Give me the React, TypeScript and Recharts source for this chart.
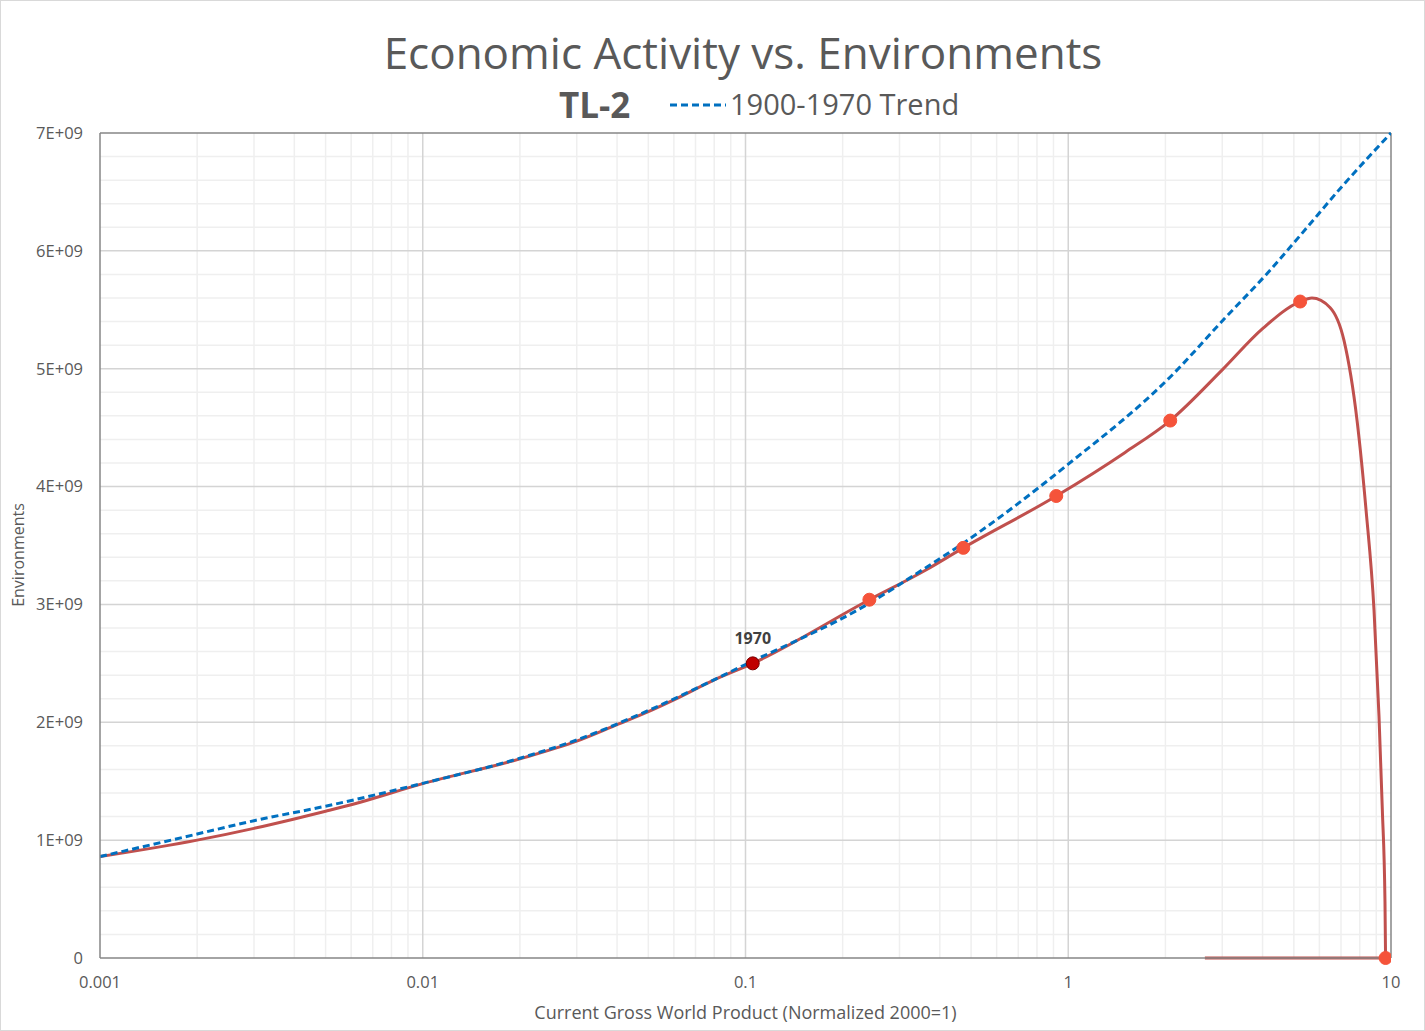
import React from "react";
import {
  ComposedChart,
  Line,
  Scatter,
  XAxis,
  YAxis,
  ReferenceLine,
  LabelList,
} from "recharts";

// GWP (normalized, 2000 = 1) and environments (billions)
const curveGwp = [
  0.001, 0.002, 0.003, 0.004, 0.005, 0.006, 0.01, 0.02, 0.03, 0.04, 0.05, 0.06, 0.08,
  0.1053, 0.242, 0.361, 0.473, 0.918, 1.5, 2.07, 3.0, 4.0, 5.23, 5.69, 6.47, 7.15, 7.85,
  8.37, 8.86, 9.18, 9.4, 9.58, 9.62,
];
const curveEnv = [
  0.86, 1.0, 1.1, 1.18, 1.245, 1.3, 1.48, 1.69, 1.84, 1.98, 2.09, 2.19, 2.36, 2.5, 3.04,
  3.29, 3.48, 3.92, 4.29, 4.56, 4.99, 5.34, 5.57, 5.6, 5.52, 5.24, 4.56, 3.8, 2.95, 2.05,
  1.26, 0.475, 0,
];

// 1900-1970 trend
const trendGwp = [
  0.001, 0.002, 0.003, 0.005, 0.01, 0.02, 0.03, 0.05, 0.1, 0.242, 0.361, 0.473, 1.0, 2.07,
  3.06, 4.14, 5.23, 7.12, 10,
];
const trendEnv = [
  0.86, 1.052, 1.165, 1.288, 1.482, 1.695, 1.85, 2.1, 2.49, 3.01, 3.31, 3.52, 4.19, 4.93,
  5.43, 5.81, 6.13, 6.56, 7.0,
];

// collapse baseline
const baseGwp = [2.65, 9.62];
const baseEnv = [0, 0];

// highlighted points
const markerGwp = [0.242, 0.473, 0.918, 2.07, 5.23, 9.62];
const markerEnv = [3.04, 3.48, 3.92, 4.56, 5.57, 0];
const point1970 = { x: 0.1053, y: 2.5, label: "1970" };

const xTicks = [0.001, 0.01, 0.1, 1, 10];
const yTicks = [0, 1, 2, 3, 4, 5, 6, 7];
const xMinor = [0.001, 0.01, 0.1, 1].flatMap((d) => [2, 3, 4, 5, 6, 7, 8, 9].map((m) => d * m));
const yMinor = [
  0.2, 0.4, 0.6, 0.8, 1.2, 1.4, 1.6, 1.8, 2.2, 2.4, 2.6, 2.8, 3.2, 3.4, 3.6, 3.8, 4.2, 4.4,
  4.6, 4.8, 5.2, 5.4, 5.6, 5.8, 6.2, 6.4, 6.6, 6.8,
];

const zip = (xs: number[], ys: number[]) => xs.map((x, i) => ({ x, y: ys[i] }));
const curveData = zip(curveGwp, curveEnv);
const trendData = zip(trendGwp, trendEnv);
const baseData = zip(baseGwp, baseEnv);
const markerData = zip(markerGwp, markerEnv);

const FONT = "'Open Sans', sans-serif";
const TEXT = "#595959";

const Dot = (fill: string, stroke: string) => (props: any) => (
  <circle cx={props.cx} cy={props.cy} r={6.5} fill={fill} stroke={stroke} strokeWidth={1} />
);

export default function App() {
  return (
    <div
      style={{
        position: "absolute",
        left: 0,
        top: 0,
        width: 1425,
        height: 1031,
        background: "#fff",
        fontFamily: FONT,
      }}
    >
      <ComposedChart width={1425} height={1031} margin={{ top: 133, right: 34, left: 0, bottom: 0 }}>
        <XAxis
          dataKey="x"
          type="number"
          scale="log"
          domain={[0.001, 10]}
          ticks={xTicks}
          allowDataOverflow
          height={73}
          tickSize={0}
          tickMargin={18}
          tickFormatter={(v) => String(v)}
          tick={{ fill: TEXT, fontSize: 16.5, fontFamily: FONT }}
          stroke="#868686"
          strokeWidth={1.5}
        />
        <YAxis
          dataKey="y"
          type="number"
          domain={[0, 7]}
          ticks={yTicks}
          width={100}
          tickSize={0}
          tickMargin={17}
          tickFormatter={(v) => (v === 0 ? "0" : `${v}E+09`)}
          tick={{ fill: TEXT, fontSize: 16.5, fontFamily: FONT }}
          stroke="#868686"
          strokeWidth={1.5}
        />
        {xMinor.map((v) => (
          <ReferenceLine key={"xm" + v} x={v} stroke="#EFEFEF" strokeWidth={1.5} />
        ))}
        {yMinor.map((v) => (
          <ReferenceLine key={"ym" + v} y={v} stroke="#EFEFEF" strokeWidth={1.5} />
        ))}
        {xTicks.slice(1, -1).map((v) => (
          <ReferenceLine key={"xM" + v} x={v} stroke="#D4D4D4" strokeWidth={1.5} />
        ))}
        {yTicks.slice(1, -1).map((v) => (
          <ReferenceLine key={"yM" + v} y={v} stroke="#D4D4D4" strokeWidth={1.5} />
        ))}
        <ReferenceLine x={10} stroke="#868686" strokeWidth={1.5} />
        <ReferenceLine y={7} stroke="#868686" strokeWidth={1.5} />
        <Line
          data={baseData}
          dataKey="y"
          type="linear"
          stroke="#C0504D"
          strokeWidth={3}
          dot={false}
          isAnimationActive={false}
        />
        <Line
          data={curveData}
          dataKey="y"
          type="monotone"
          stroke="#C0504D"
          strokeWidth={3}
          dot={false}
          isAnimationActive={false}
        />
        <Scatter
          data={[point1970]}
          dataKey="y"
          shape={Dot("#C00000", "#7A0000")}
          isAnimationActive={false}
        >
          <LabelList
            dataKey="label"
            position="top"
            offset={15}
            style={{ fill: "#404040", fontSize: 16, fontWeight: 700, fontFamily: FONT }}
          />
        </Scatter>
        <Line
          data={trendData}
          dataKey="y"
          type="monotone"
          stroke="#0070C0"
          strokeWidth={3}
          strokeDasharray="7 4"
          dot={false}
          isAnimationActive={false}
        />
        <Scatter
          data={markerData}
          dataKey="y"
          shape={Dot("#F5533A", "#F5533A")}
          isAnimationActive={false}
        />
      </ComposedChart>

      <div
        style={{
          position: "absolute",
          left: 0,
          top: 22,
          width: 1486,
          textAlign: "center",
          fontSize: 44,
          color: TEXT,
          lineHeight: "60px",
        }}
      >
        Economic Activity vs. Environments
      </div>
      <div
        style={{
          position: "absolute",
          left: 559,
          top: 82,
          fontSize: 35,
          fontWeight: 700,
          color: TEXT,
          lineHeight: "46px",
        }}
      >
        TL-2
      </div>
      <svg style={{ position: "absolute", left: 668, top: 100 }} width={60} height={10}>
        <line x1={2} y1={5} x2={58} y2={5} stroke="#0070C0" strokeWidth={3} strokeDasharray="7 4" />
      </svg>
      <div
        style={{
          position: "absolute",
          left: 730,
          top: 84,
          fontSize: 29,
          color: TEXT,
          lineHeight: "40px",
        }}
      >
        1900-1970 Trend
      </div>
      <div
        style={{
          position: "absolute",
          left: 100,
          width: 1291,
          top: 1000,
          textAlign: "center",
          fontSize: 18,
          color: TEXT,
        }}
      >
        Current Gross World Product (Normalized 2000=1)
      </div>
      <div
        style={{
          position: "absolute",
          left: 18,
          top: 555,
          transform: "translate(-50%, -50%) rotate(-90deg)",
          fontSize: 16,
          color: TEXT,
          whiteSpace: "nowrap",
        }}
      >
        Environments
      </div>
      <div
        style={{
          position: "absolute",
          inset: 0,
          border: "1px solid #D9D9D9",
          pointerEvents: "none",
        }}
      />
    </div>
  );
}
